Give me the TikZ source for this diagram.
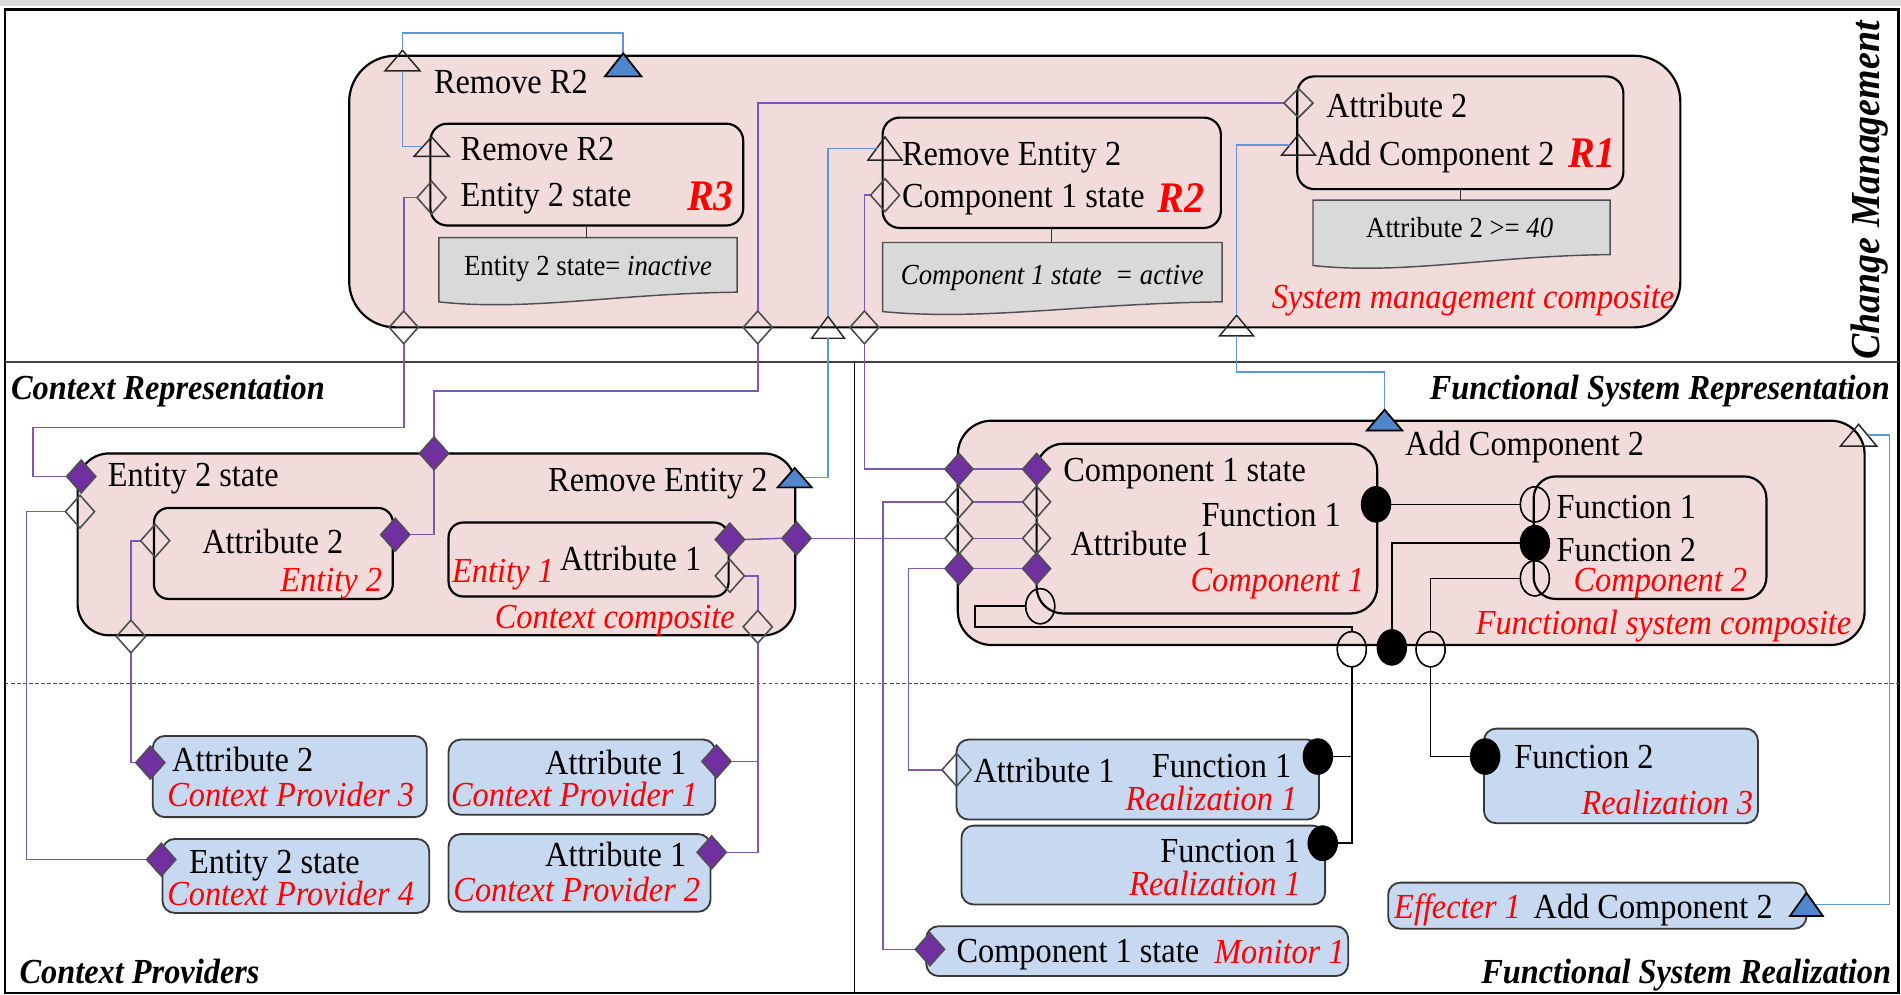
\documentclass[tikz,border=0pt]{standalone}
\usepackage{fontspec}
\setmainfont{Liberation Serif}[FakeStretch=0.92]
\usetikzlibrary{shapes.geometric,fit,calc}
\definecolor{pinkf}{HTML}{F2DCDB}
\definecolor{bluef}{HTML}{C6D9F1}
\definecolor{grayf}{HTML}{D9D9D9}
\definecolor{pline}{HTML}{7E57B3}
\definecolor{pfill}{HTML}{7030A0}
\definecolor{bline}{HTML}{5F95DA}
\definecolor{bfill}{HTML}{4F86CC}
\definecolor{redt}{HTML}{FF0000}
\definecolor{mgray}{HTML}{505050}
\tikzset{
  comp/.style={draw=black, line width=1.8pt, fill=pinkf, rounded corners=#1, inner sep=0pt},
  prov/.style={draw=mgray!70!black, line width=1.5pt, fill=bluef, rounded corners=10pt, inner sep=0pt},
  tx/.style={inner sep=0pt, outer sep=0pt, text height=19pt, text depth=0pt, font=\fontsize{29}{30}\selectfont},
  rtx/.style={tx, text=redt, font=\fontsize{29}{30}\selectfont\itshape},
  gtx/.style={inner sep=0pt, text height=16pt, text depth=0pt, font=\fontsize{24}{26}\selectfont},
  rbig/.style={inner sep=0pt, text=redt, font=\fontsize{36}{38}\selectfont\bfseries\itshape},
  sec/.style={inner sep=0pt, text height=19pt, text depth=0pt, font=\fontsize{29}{30}\selectfont\bfseries\itshape},
  dia/.style={diamond, inner sep=0pt, outer sep=0pt, minimum width=24pt, minimum height=27pt, line width=1.1pt},
  odia/.style={dia, draw=mgray},
  fdia/.style={dia, draw=mgray, fill=pfill},
  ball/.style={ellipse, inner sep=0pt, outer sep=0pt, minimum width=24pt, minimum height=29pt, draw=black, fill=black, line width=1.1pt},
  sock/.style={ellipse, inner sep=0pt, outer sep=0pt, minimum width=24pt, minimum height=29pt, draw=black, line width=1.1pt},
  pl/.style={draw=pline, line width=1.3pt},
  bl/.style={draw=bline, line width=1.3pt},
  kl/.style={draw=black, line width=1.3pt},
  graybox/.style={fill=grayf, draw=mgray, line width=1.2pt},
}
\newcommand\tport[6]{%
  \node[inner sep=0pt, outer sep=0pt, minimum width=#4pt, minimum height=#5pt] (#1) at (#2,#3) {};
  \filldraw[fill=#6, draw=black!85, line width=1.2pt, line join=miter] (#1.south west) -- (#1.north) -- (#1.south east) -- cycle;}
\newcommand\docshape[6]{%
  \node[inner sep=0pt, outer sep=0pt, fit={(#2,#3) (#4,#5)}] (#1) {};
  \filldraw[graybox] (#2,#3) -- (#4,#3) -- (#4,#5) .. controls ({#4-0.4*(#4-#2)},{#5+1}) and ({#2+0.3*(#4-#2)},{#6+8}) .. (#2,#6) -- cycle;}
\begin{document}
\begin{tikzpicture}[x=1pt,y=-1pt]
\useasboundingbox (0,0) rectangle (1568,820);
% frame
\fill[gray!30] (0,0) rectangle (1568,5);
\draw[line width=2pt] (4,8) rectangle (1566,819);
\draw[line width=1.6pt, black!75] (4,298.5) -- (1566,298.5);
\draw[line width=1pt] (705,298.5) -- (705,819);
\draw[dash pattern=on 3pt off 2pt, line width=1pt, black!70] (4,563.5) -- (1566,563.5);

% boxes
\node[comp=38pt, fit={(288,46) (1386,270)}] (smc) {};
\node[comp=14pt, fit={(355,102) (613,186)}] (r3) {};
\node[comp=14pt, fit={(728,97) (1007,188)}] (r2) {};
\node[comp=14pt, fit={(1070,63) (1339,156)}] (r1) {};
\docshape{g3}{362}{196}{608}{241}{249}
\docshape{g2}{728}{200}{1008}{249}{257}
\docshape{g1}{1083}{165}{1328}{210}{219}
\draw[black!80, line width=1pt] (r3.south) -- (r3.south |- g3.north);
\draw[black!80, line width=1pt] (r2.south) -- (r2.south |- g2.north);
\draw[black!80, line width=1pt] (r1.south) -- (r1.south |- g1.north);

\node[comp=26pt, fit={(64,374) (656,524)}] (ctx) {};
\node[comp=12pt, fit={(127,419) (324,494)}] (e2) {};
\node[comp=12pt, fit={(370,431) (601,492)}] (e1) {};

\node[comp=28pt, fit={(790,347) (1538,532)}] (fsc) {};
\node[comp=22pt, fit={(855,366) (1136,506)}] (c1) {};
\node[comp=18pt, fit={(1265,393) (1457,494)}] (c2) {};

\node[prov, fit={(126,607) (352,674)}] (p3) {};
\node[prov, fit={(134,692) (354,753)}] (p4) {};
\node[prov, fit={(370,610) (590,672)}] (p1) {};
\node[prov, fit={(370,688) (586,752)}] (p2) {};
\node[prov, fit={(789,610) (1088,676)}] (ra) {};
\node[prov, fit={(793,681) (1093,746)}] (rb) {};
\node[prov, fit={(1224,601) (1450,679)}] (rc) {};
\node[prov, fit={(1145,728) (1490,766)}] (ef) {};
\node[prov, fit={(764,764) (1112,805)}] (mo) {};

% marker nodes (placed first, drawn after connectors via shapes)
\node[odia] (r3d) at (356,163) {};
\node[odia] (r2d) at (730,161) {};
\node[odia, minimum height=24pt] (r1d) at (1071,85) {};
\node[odia] (bd1) at (333,270) {};
\node[odia] (bd2) at (625,270) {};
\node[odia] (bd3) at (713,270) {};
\node[fdia] (ctd) at (358,374) {};
\node[fdia] (ced1) at (67,393) {};
\node[odia] (ced2) at (66,422) {};
\node[odia] (e2od) at (128,446) {};
\node[fdia] (e2d) at (326,441) {};
\node[fdia] (e1d) at (602,445) {};
\node[odia] (e1od) at (602,475) {};
\node[fdia] (ced3) at (657,444) {};
\node[odia] (bd4) at (108,525) {};
\node[odia] (bd5) at (625,517) {};
\node[fdia, minimum height=26pt, minimum width=23pt] (fd1) at (791,387) {};
\node[odia, minimum height=26pt, minimum width=23pt] (fd2) at (791,414) {};
\node[odia, minimum height=26pt, minimum width=23pt] (fd3) at (791,444) {};
\node[fdia, minimum height=26pt, minimum width=23pt] (fd4) at (791,469) {};
\node[fdia, minimum height=26pt, minimum width=23pt] (fi1) at (855,387) {};
\node[odia, minimum height=26pt, minimum width=23pt] (fi2) at (855,414) {};
\node[odia, minimum height=26pt, minimum width=23pt] (fi3) at (855,444) {};
\node[fdia, minimum height=26pt, minimum width=23pt] (fi4) at (855,469) {};
\node[fdia] (p3d) at (124,629) {};
\node[fdia] (p4d) at (133,709) {};
\node[fdia] (p1d) at (591,628) {};
\node[fdia] (p2d) at (587,703) {};
\node[odia] (rad) at (789,635) {};
\node[fdia] (mod) at (767,783) {};

\node[ball] (c1b) at (1135,416) {};
\node[sock] (c1s) at (858,500) {};
\node[sock] (c2s1) at (1266,416) {};
\node[ball] (c2b) at (1266,448) {};
\node[sock] (c2s2) at (1266,477) {};
\node[sock] (bs1) at (1115,535.5) {};
\node[ball] (bb) at (1148,534) {};
\node[sock] (bs2) at (1180,535.5) {};
\node[ball] (rb1) at (1087,624) {};
\node[ball, minimum height=27pt] (rb2) at (1091,695.5) {};
\node[ball] (r3b) at (1225,624) {};

% connectors: blue
\tport{ttri}{332}{50}{29}{17}{none}
\tport{btri}{514}{53.5}{30}{19}{bfill}
\tport{r3t}{356}{121}{29}{16}{none}
\tport{r2t}{730}{122.5}{28}{19}{none}
\tport{bt1}{683}{270}{27}{18}{none}
\tport{r1t}{1071}{119.5}{28}{17}{none}
\tport{bt2}{1020}{268.5}{28}{17}{none}
\tport{ret}{655.5}{394}{28}{16}{bfill}
\tport{fct}{1142}{346.5}{29}{17}{bfill}
\tport{trt}{1533}{359}{30}{18}{none}
\tport{eft}{1490}{746}{27}{19}{bfill}

\draw[bl] (ttri.north) -- ++(0,-14.5) -| (btri.north);
\draw[bl] (ttri.south) |- ($(r3t.west)!0.5!(r3t.center)$);
\draw[bl] ($(r2t.west)!0.5!(r2t.center)$) -| (bt1.north);
\draw[bl] (bt1.south) |- ($(ret.east)!0.5!(ret.center)$);
\draw[bl] ($(r1t.west)!0.5!(r1t.center)$) -| (bt2.north);
\draw[bl] (bt2.south) -- ++(0,30) -| (fct.north);
\draw[bl] ($(trt.east)!0.5!(trt.center)$) -- ++(18,0) |- ($(eft.east)!0.5!(eft.center)$);

% connectors: purple
\draw[pl] (r3d.west) -| (bd1.north);
\draw[pl] (bd1.south) -- ++(0,69) -| ($(ced1.west)+(-28,0)$) -- (ced1.west);
\draw[pl] (r1d.west) -| (bd2.north);
\draw[pl] (bd2.south) -- ++(0,39) -| (ctd.north);
\draw[pl] (ctd.south) |- (e2d.east);
\draw[pl] (r2d.west) -| (bd3.north);
\draw[pl] (bd3.south) |- (fd1.west);
\draw[pl] (fd1.east) -- (fi1.west);
\draw[pl] (fd2.east) -- (fi2.west);
\draw[pl] (fd3.east) -- (fi3.west);
\draw[pl] (fd4.east) -- (fi4.west);
\draw[pl] (ced2.west) -- ++(-32,0) |- (p4d.west);
\draw[pl] (e2od.west) -| (bd4.north);
\draw[pl] (bd4.south) |- (p3d.west);
\draw[pl] (e1d.east) -- (ced3.west);
\draw[pl] (ced3.east) -- (fd3.west);
\draw[pl] (e1od.east) -| (bd5.north);
\draw[pl] (bd5.south) |- (p2d.east);
\draw[pl] (p1d.east) -| (bd5.south);
\draw[pl] (fd2.west) -- ++(-51,0) |- (mod.west);
\draw[pl] (fd4.west) -- ++(-30,0) |- (rad.west);

% connectors: black
\draw[kl] (c1b.east) -- (c2s1.west);
\draw[kl] (c2b.west) -| (bb.north);
\draw[kl] (c2s2.west) -| (bs2.north);
\draw[kl] (c1s.west) -- ++(-42,0) -- ++(0,17) -| (bs1.north);
\draw[kl] (bs1.south) |- (rb2.east);
\draw[kl] (rb1.east) -| (bs1.south);
\draw[kl] (bs2.south) |- (r3b.west);

% redraw markers on top
\foreach \n in {r3d,r2d,r1d,bd1,bd2,bd3,ced2,e2od,e1od,bd4,bd5,fd2,fd3,fi2,fi3,rad}{
  \draw[mgray, line width=1.1pt] (\n.north) -- (\n.east) -- (\n.south) -- (\n.west) -- cycle;}
\foreach \n in {ctd,ced1,e2d,e1d,ced3,fd1,fd4,fi1,fi4,p3d,p4d,p1d,p2d,mod}{
  \filldraw[fill=pfill, draw=mgray, line width=1.1pt] (\n.north) -- (\n.east) -- (\n.south) -- (\n.west) -- cycle;}
\foreach \n in {c1b,c2b,bb,rb1,rb2,r3b}{
  \filldraw[black] (\n.center) ellipse [x radius=12pt, y radius=14.5pt];}
\foreach \n in {c1s,c2s1,c2s2,bs1,bs2}{
  \draw[black, line width=1.1pt] (\n.center) ellipse [x radius=12pt, y radius=14.5pt];}
\foreach \n in {btri,ret,fct,eft}{
  \filldraw[fill=bfill, draw=black, line width=1.4pt] (\n.south west) -- (\n.north) -- (\n.south east) -- cycle;}

% texts: change management
\node[tx, anchor=west] (t1) at (358,68) {Remove R2};
\node[tx, anchor=west] (t2) at (380,123) {Remove R2};
\node[tx, anchor=west] (t3) at (380,161) {Entity 2 state};
\node[rbig] (t4) at (586,162) {R3};
\node[gtx] (t5) at (485,219) {Entity 2 state= \textit{inactive}};
\node[tx, anchor=west] (t6) at (744,127) {Remove Entity 2};
\node[tx, anchor=west] (t7) at (744,162) {Component 1 state};
\node[rbig] (t8) at (974,163) {R2};
\node[gtx] (t9) at (868,227) {\itshape Component 1 state\ \ = active};
\node[tx, anchor=west] (t10) at (1094,87) {Attribute 2};
\node[tx, anchor=west] (t11) at (1085,127) {Add Component 2};
\node[rbig] (t12) at (1313,126) {R1};
\node[gtx] (t13) at (1204,188) {Attribute 2 >= \textit{40}};
\node[rtx, anchor=east] (t14) at (1381,245) {System management composite};

% context representation
\node[tx, anchor=west] (u1) at (89,392) {Entity 2 state};
\node[tx, anchor=east] (u2) at (633,396) {Remove Entity 2};
\node[tx] (u3) at (225,447) {Attribute 2};
\node[rtx, anchor=east] (u4) at (315,478) {Entity 2};
\node[rtx, anchor=west] (u5) at (373,471) {Entity 1};
\node[tx, anchor=west] (u6) at (462,461) {Attribute 1};
\node[rtx, anchor=east] (u7) at (606,509) {Context composite};

% functional system representation
\node[tx, anchor=west] (v1) at (1159,366) {Add Component 2};
\node[tx, anchor=west] (v2) at (877,388) {Component 1 state};
\node[tx, anchor=east] (v3) at (1106,425) {Function 1};
\node[tx, anchor=west] (v4) at (883,449) {Attribute 1};
\node[rtx, anchor=east] (v5) at (1125,478) {Component 1};
\node[tx, anchor=west] (v6) at (1284,418) {Function 1};
\node[tx, anchor=west] (v7) at (1284,454) {Function 2};
\node[rtx, anchor=east] (v8) at (1441,478) {Component 2};
\node[rtx, anchor=east] (v9) at (1527,514) {Functional system composite};

% context providers
\node[tx, anchor=west] (w1) at (142,627) {Attribute 2};
\node[rtx, anchor=west] (w2) at (138,656) {Context Provider 3};
\node[tx, anchor=west] (w3) at (156,711) {Entity 2 state};
\node[rtx, anchor=west] (w4) at (138,737) {Context Provider 4};
\node[tx, anchor=east] (w5) at (566,629) {Attribute 1};
\node[rtx, anchor=west] (w6) at (372,656) {Context Provider 1};
\node[tx, anchor=east] (w7) at (566,705) {Attribute 1};
\node[rtx, anchor=west] (w8) at (374,734) {Context Provider 2};

% realization
\node[tx, anchor=west] (x1) at (803,636) {Attribute 1};
\node[tx, anchor=east] (x2) at (1065,632) {Function 1};
\node[rtx, anchor=east] (x3) at (1070,659) {Realization 1};
\node[tx, anchor=east] (x4) at (1072,702) {Function 1};
\node[rtx, anchor=east] (x5) at (1073,729) {Realization 1};
\node[tx, anchor=west] (x6) at (1249,624) {Function 2};
\node[rtx, anchor=east] (x7) at (1446,662) {Realization 3};
\node[rtx, anchor=west] (x8) at (1150,748) {Effecter 1};
\node[tx, anchor=west] (x9) at (1265,748) {Add Component 2};
\node[tx, anchor=west] (x10) at (789,784) {Component 1 state};
\node[rtx, anchor=east] (x11) at (1109,785) {Monitor 1};

% section labels
\node[sec, anchor=west] (s1) at (9,320) {Context Representation};
\node[sec, anchor=east] (s2) at (1559,320) {Functional System Representation};
\node[sec, anchor=west] (s3) at (16,802) {Context Providers};
\node[sec, anchor=east] (s4) at (1560,802) {Functional System Realization};
\node[inner sep=0pt, rotate=90, font=\fontsize{34}{36}\selectfont\bfseries\itshape] (s5) at (1542,157) {Change Management};
\end{tikzpicture}
\end{document}
